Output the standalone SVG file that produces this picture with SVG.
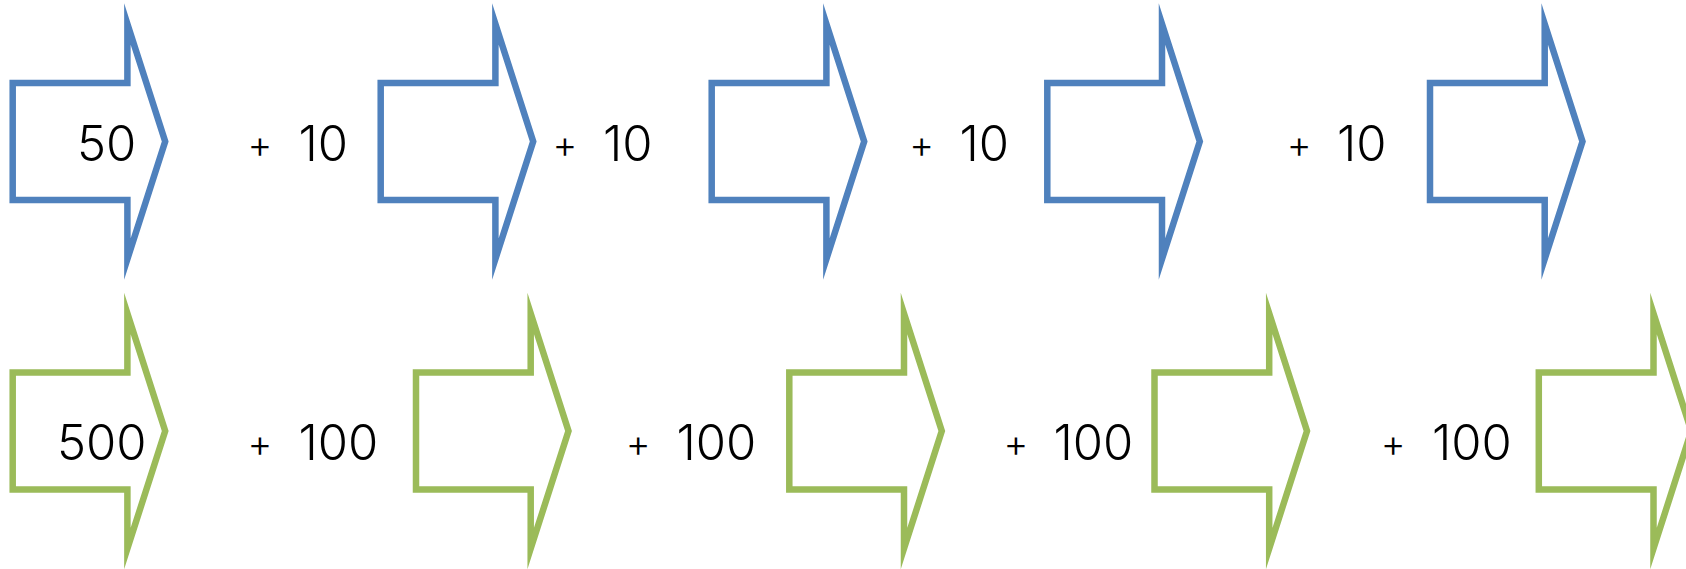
<svg xmlns="http://www.w3.org/2000/svg" width="1686" height="569" viewBox="0 0 1686 569">
<defs>
<style>
.blue{fill:#FFFFFF;stroke:#4F81BD;stroke-width:6.5;stroke-miterlimit:12}
.green{fill:#FFFFFF;stroke:#9BBB59;stroke-width:6.5;stroke-miterlimit:12}
.lbl{font-family:"Inter","Roboto","Liberation Sans",sans-serif;font-weight:300;font-size:49px;fill:#000000}
.plus{font-size:38px}
</style>
<polygon id="arrowShape" points="0,83 114.7,83 114.7,24 152.5,141.5 114.7,259 114.7,200 0,200"/>
</defs>
<rect width="1686" height="569" fill="#FFFFFF"/>
<g id="blue-arrow-1"><use href="#arrowShape" class="blue" x="12.7" y="0"/><text class="lbl" x="77" y="160.5">50</text></g>
<g id="blue-arrow-2"><use href="#arrowShape" class="blue" x="380.7" y="0"/></g>
<g id="blue-arrow-3"><use href="#arrowShape" class="blue" x="711.7" y="0"/></g>
<g id="blue-arrow-4"><use href="#arrowShape" class="blue" x="1047.3" y="0"/></g>
<g id="blue-arrow-5"><use href="#arrowShape" class="blue" x="1430" y="0"/></g>
<g id="green-arrow-1"><use href="#arrowShape" class="green" x="12.7" y="289.5"/><text class="lbl" x="57" y="460">500</text></g>
<g id="green-arrow-2"><use href="#arrowShape" class="green" x="416" y="289.5"/></g>
<g id="green-arrow-3"><use href="#arrowShape" class="green" x="789.3" y="289.5"/></g>
<g id="green-arrow-4"><use href="#arrowShape" class="green" x="1154.5" y="289.5"/></g>
<g id="green-arrow-5"><use href="#arrowShape" class="green" x="1538.8" y="289.5"/></g>
<g id="connectors">
<text class="lbl"><tspan class="plus" x="247.5" y="157.5">+</tspan><tspan x="298.5" y="160.5">10</tspan></text>
<text class="lbl"><tspan class="plus" x="552.5" y="157.5">+</tspan><tspan x="603" y="160.5">10</tspan></text>
<text class="lbl"><tspan class="plus" x="909.2" y="157.5">+</tspan><tspan x="959.5" y="160.5">10</tspan></text>
<text class="lbl"><tspan class="plus" x="1286.8" y="157.5">+</tspan><tspan x="1337" y="160.5">10</tspan></text>
<text class="lbl"><tspan class="plus" x="247.5" y="457">+</tspan><tspan x="298.5" y="460">100</tspan></text>
<text class="lbl"><tspan class="plus" x="625.8" y="457">+</tspan><tspan x="676.5" y="460">100</tspan></text>
<text class="lbl"><tspan class="plus" x="1003.5" y="457">+</tspan><tspan x="1053.5" y="460">100</tspan></text>
<text class="lbl"><tspan class="plus" x="1380.8" y="457">+</tspan><tspan x="1432" y="460">100</tspan></text>
</g>
</svg>
